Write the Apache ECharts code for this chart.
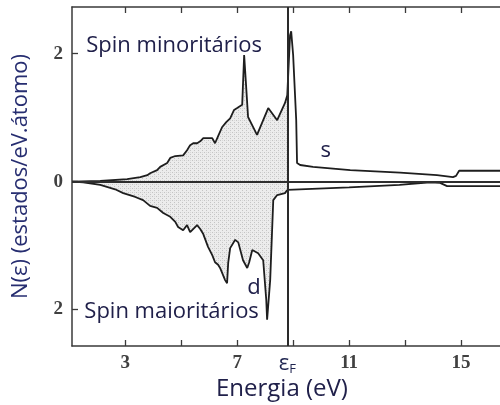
<!DOCTYPE html>
<html>
<head>
<meta charset="utf-8">
<script src="https://cdn.jsdelivr.net/npm/echarts@6/dist/echarts.min.js"></script>
<style>
  html, body { margin: 0; padding: 0; background: #fff; }
  #chart { width: 500px; height: 405px; }
</style>
</head>
<body>
<div id="chart"></div>
<script>
// Density of states (states/eV.atom) versus energy (eV), spin-resolved.
// Minority spin is plotted upward, majority spin downward.
const fermiEnergy = 8.79;

// Minority spin, d band up to the Fermi level
const minorityD = [
  [1.11, 0], [2.11, 0.01], [3.07, 0.04], [3.54, 0.07], [3.79, 0.10],
  [3.89, 0.13], [4.14, 0.18], [4.25, 0.23], [4.50, 0.29], [4.61, 0.37],
  [4.79, 0.40], [5.07, 0.41], [5.21, 0.49], [5.32, 0.57], [5.43, 0.60],
  [5.57, 0.60], [5.68, 0.63], [5.79, 0.68], [5.96, 0.68], [6.11, 0.68],
  [6.21, 0.60], [6.32, 0.71], [6.46, 0.85], [6.61, 0.93], [6.75, 0.99],
  [6.89, 1.12], [7.00, 1.15], [7.18, 1.20], [7.25, 1.98], [7.32, 1.96],
  [7.39, 1.01], [7.54, 0.88], [7.71, 0.73], [8.11, 1.15], [8.43, 0.96],
  [8.71, 1.23], [8.79, 1.35]
];
// Minority spin above the Fermi level (d-band top and s tail)
const minorityS = [
  [8.79, 1.35], [8.89, 2.29], [8.93, 2.35], [9.00, 1.98], [9.11, 0.96],
  [9.14, 0.29], [9.25, 0.26], [9.71, 0.23], [11.04, 0.18], [12.82, 0.14],
  [14.14, 0.10], [14.71, 0.07], [14.82, 0.09], [14.93, 0.17], [15.68, 0.17],
  [16.4, 0.17]
];
// Majority spin, d band up to the Fermi level
const majorityD = [
  [1.11, 0], [1.50, -0.01], [2.11, -0.05], [2.64, -0.12], [2.93, -0.18],
  [3.36, -0.24], [3.64, -0.29], [3.89, -0.38], [4.14, -0.41], [4.36, -0.49],
  [4.61, -0.55], [4.79, -0.63], [4.89, -0.71], [5.07, -0.76], [5.21, -0.68],
  [5.32, -0.79], [5.39, -0.80], [5.57, -0.68], [5.68, -0.74], [5.79, -0.82],
  [5.96, -1.02], [6.11, -1.15], [6.21, -1.26], [6.32, -1.30], [6.39, -1.35],
  [6.46, -1.32], [6.57, -1.54], [6.64, -1.59], [6.68, -1.27], [6.75, -1.04],
  [6.93, -0.91], [7.04, -0.95], [7.21, -1.23], [7.36, -1.35], [7.43, -1.26],
  [7.54, -1.07], [7.75, -1.12], [7.93, -1.23], [8.04, -1.85], [8.07, -2.16],
  [8.11, -2.13], [8.18, -1.54], [8.29, -0.29], [8.43, -0.21], [8.71, -0.18],
  [8.79, -0.13]
];
// Majority spin above the Fermi level
const majorityS = [
  [8.79, -0.13], [11.0, -0.09], [12.8, -0.05], [13.89, -0.01], [14.25, -0.02],
  [14.5, -0.07], [16.4, -0.07]
];

const xTicks = [3, 5, 7, 9, 11, 13, 15];
const xTickLabels = [3, 7, 11, 15];
const yTicks = [-2, 0, 2];

const annotations = [
  { text: 'Spin minoritários', at: [1.61, 2.13] },
  { text: 'Spin maioritários', at: [1.54, -2.04] },
  { text: 's', at: [9.98, 0.48] },
  { text: 'd', at: [7.36, -1.66] }
];

// Light stippled fill for the occupied d states
function stipple() {
  const c = document.createElement('canvas');
  c.width = 4; c.height = 4;
  const g = c.getContext('2d');
  g.fillStyle = '#ececec';
  g.fillRect(0, 0, 4, 4);
  g.fillStyle = '#c4c4c4';
  g.fillRect(0, 0, 1, 1);
  g.fillRect(2, 2, 1, 1);
  g.fillStyle = '#d8d8d8';
  g.fillRect(2, 0, 1, 1);
  return c;
}

const axisColor = '#3a3a3a';
const tickFont = { fontFamily: 'Liberation Serif', fontWeight: 'bold', fontSize: 19, color: '#404040' };
const textFont = 'Open Sans';
const textColor = '#20204a';
const curve = { color: '#1e1e1e', width: 1.8 };

const chart = echarts.init(document.getElementById('chart'), null, { renderer: 'canvas' });
const pattern = { image: stipple(), repeat: 'repeat' };

chart.setOption({
  animation: false,
  backgroundColor: '#ffffff',
  // no right-hand axis: the plot box stays open at the right edge
  grid: { left: 72, top: 7, right: 0, bottom: 59, outerBoundsMode: 'none' },
  xAxis: [
    {
      type: 'value', min: 1.1, max: 16.39, position: 'bottom',
      axisLine: { show: true, onZero: false, lineStyle: { color: axisColor, width: 1.5 } },
      axisTick: { show: true, inside: true, length: 6, customValues: xTicks, lineStyle: { color: axisColor, width: 1.3 } },
      axisLabel: { show: true, customValues: xTickLabels, margin: 8, ...tickFont },
      splitLine: { show: false }
    },
    {
      type: 'value', min: 1.1, max: 16.39, position: 'top',
      axisLine: { show: true, onZero: false, lineStyle: { color: axisColor, width: 1.5 } },
      axisTick: { show: true, inside: true, length: 6, customValues: xTicks, lineStyle: { color: axisColor, width: 1.3 } },
      axisLabel: { show: false },
      splitLine: { show: false }
    }
  ],
  yAxis: {
    type: 'value', min: -2.57, max: 2.73,
    name: 'N(ε) (estados/eV.átomo)', nameLocation: 'middle', nameGap: 40, nameRotate: 90,
    nameTextStyle: { fontFamily: textFont, fontSize: 22, color: '#262d70' },
    axisLine: { show: true, onZero: false, lineStyle: { color: axisColor, width: 1.5 } },
    axisTick: { show: true, inside: true, length: 6, customValues: yTicks, lineStyle: { color: axisColor, width: 1.3 } },
    axisLabel: { show: true, customValues: yTicks, margin: 9, formatter: v => String(Math.abs(v)), ...tickFont },
    splitLine: { show: false }
  },
  series: [
    {
      name: 'minoritário d', type: 'line', data: minorityD, symbol: 'none',
      lineStyle: curve, areaStyle: { color: pattern, opacity: 1 }, z: 3,
      markLine: {
        silent: true, symbol: 'none', animation: false,
        data: [
          { yAxis: 0, lineStyle: { color: '#2e2e2e', width: 2, type: 'solid' }, label: { show: false } },
          {
            xAxis: fermiEnergy, lineStyle: { color: '#2a2a2a', width: 2, type: 'solid' },
            label: {
              show: true, position: 'start', distance: 5,
              formatter: '{e|ε}{f|F}',
              rich: {
                e: { fontFamily: textFont, fontSize: 22, color: '#1f2550' },
                f: { fontFamily: textFont, fontSize: 13, color: '#1f2550', padding: [12, 0, 0, 0] }
              }
            }
          }
        ]
      }
    },
    {
      name: 'minoritário s', type: 'line', data: minorityS, symbol: 'none',
      lineStyle: curve, z: 3
    },
    {
      name: 'majoritário d', type: 'line', data: majorityD, symbol: 'none',
      lineStyle: curve, areaStyle: { color: pattern, opacity: 1 }, z: 3
    },
    {
      name: 'majoritário s', type: 'line', data: majorityS, symbol: 'none',
      lineStyle: curve, z: 3
    }
  ]
});

// Annotation texts anchored at data coordinates
const energyTitleX = chart.convertToPixel({ xAxisIndex: 0 }, 8.6);
chart.setOption({
  graphic: annotations.map(a => {
    const p = chart.convertToPixel({ xAxisIndex: 0, yAxisIndex: 0 }, a.at);
    return {
      type: 'text', x: p[0], y: p[1], z: 10,
      style: {
        text: a.text, fontFamily: textFont, fontSize: 22, fill: textColor,
        verticalAlign: 'middle', align: 'left'
      }
    };
  }).concat([{
    type: 'text', z: 10, x: energyTitleX, y: 389,
    style: {
      text: 'Energia (eV)', fontFamily: textFont, fontSize: 24, fill: textColor,
      align: 'center', verticalAlign: 'middle'
    }
  }])
});
</script>
</body>
</html>
